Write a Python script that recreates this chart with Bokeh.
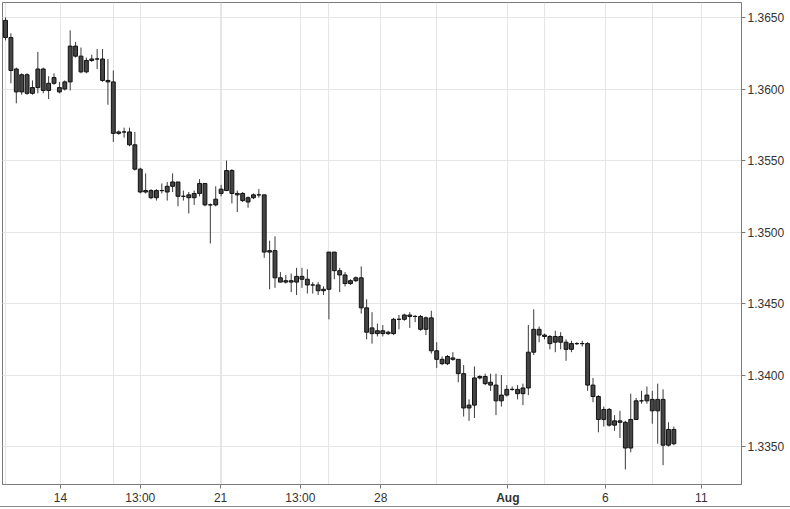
from bokeh.plotting import figure
from bokeh.models import (LinearAxis, FixedTicker, Range1d, ColumnDataSource,
                          NumeralTickFormatter, CustomJSTickFormatter, Grid)
from bokeh.embed import file_html
from bokeh.resources import INLINE

# ---- data (4-hour candles, EUR/USD style) ----
opens = [1.3648, 1.3636, 1.3614, 1.3598, 1.3610, 1.3597, 1.3601, 1.3614, 1.3599, 1.3604,
         1.3601, 1.3600, 1.3605, 1.3630, 1.3623, 1.3612, 1.3620, 1.3621, 1.3621, 1.3606,
         1.3605, 1.3569, 1.3570, 1.3570, 1.3561, 1.3544, 1.3528, 1.3529, 1.3524, 1.3529,
         1.3528, 1.3532, 1.3535, 1.3525, 1.3524, 1.3524, 1.3527, 1.3534, 1.3519, 1.3519,
         1.3527, 1.3529, 1.3543, 1.3527, 1.3522, 1.3524, 1.3524, 1.3526, 1.3526, 1.3486,
         1.3487, 1.3468, 1.3465, 1.3466, 1.3465, 1.3469, 1.3467, 1.3463, 1.3463, 1.3459,
         1.3460, 1.3486, 1.3473, 1.3470, 1.3464, 1.3466, 1.3468, 1.3447, 1.3429, 1.3431,
         1.3429, 1.3430, 1.3429, 1.3439, 1.3439, 1.3442, 1.3441, 1.3441, 1.3432, 1.3440,
         1.3417, 1.3411, 1.3408, 1.3412, 1.3411, 1.3401, 1.3377, 1.3379, 1.3398, 1.3399,
         1.3395, 1.3393, 1.3382, 1.3386, 1.3390, 1.3390, 1.3387, 1.3391, 1.3416, 1.3432,
         1.3428, 1.3427, 1.3423, 1.3427, 1.3423, 1.3418, 1.3422, 1.3422, 1.3422, 1.3393,
         1.3385, 1.3369, 1.3376, 1.3365, 1.3368, 1.3367, 1.3349, 1.3369, 1.3382, 1.3382,
         1.3383, 1.3375, 1.3383, 1.3351, 1.3362]
highs = [1.3650, 1.3639, 1.3615, 1.3611, 1.3611, 1.3606, 1.3626, 1.3615, 1.3609, 1.3611,
         1.3605, 1.3606, 1.3641, 1.3633, 1.3629, 1.3622, 1.3624, 1.3628, 1.3628, 1.3621,
         1.3613, 1.3571, 1.3573, 1.3573, 1.3570, 1.3545, 1.3541, 1.3530, 1.3530, 1.3534,
         1.3535, 1.3541, 1.3535, 1.3529, 1.3528, 1.3529, 1.3537, 1.3534, 1.3520, 1.3532,
         1.3533, 1.3550, 1.3544, 1.3529, 1.3528, 1.3525, 1.3527, 1.3530, 1.3526, 1.3494,
         1.3497, 1.3472, 1.3470, 1.3471, 1.3475, 1.3475, 1.3474, 1.3465, 1.3465, 1.3462,
         1.3486, 1.3486, 1.3475, 1.3472, 1.3467, 1.3469, 1.3476, 1.3453, 1.3444, 1.3436,
         1.3435, 1.3431, 1.3440, 1.3442, 1.3443, 1.3444, 1.3442, 1.3442, 1.3441, 1.3445,
         1.3423, 1.3413, 1.3414, 1.3416, 1.3411, 1.3407, 1.3383, 1.3406, 1.3400, 1.3401,
         1.3401, 1.3401, 1.3400, 1.3393, 1.3392, 1.3393, 1.3394, 1.3435, 1.3446, 1.3434,
         1.3429, 1.3428, 1.3431, 1.3430, 1.3425, 1.3424, 1.3423, 1.3424, 1.3423, 1.3398,
         1.3386, 1.3378, 1.3377, 1.3372, 1.3375, 1.3368, 1.3387, 1.3384, 1.3389, 1.3392,
         1.3389, 1.3394, 1.3390, 1.3367, 1.3364]
lows = [1.3634, 1.3604, 1.3590, 1.3596, 1.3596, 1.3596, 1.3597, 1.3597, 1.3593, 1.3603,
        1.3597, 1.3599, 1.3599, 1.3622, 1.3611, 1.3611, 1.3619, 1.3614, 1.3605, 1.3589,
        1.3563, 1.3568, 1.3566, 1.3560, 1.3543, 1.3527, 1.3527, 1.3523, 1.3522, 1.3527,
        1.3522, 1.3528, 1.3518, 1.3522, 1.3513, 1.3519, 1.3525, 1.3518, 1.3492, 1.3518,
        1.3525, 1.3529, 1.3520, 1.3514, 1.3521, 1.3517, 1.3523, 1.3524, 1.3482, 1.3460,
        1.3461, 1.3465, 1.3464, 1.3458, 1.3456, 1.3461, 1.3457, 1.3457, 1.3456, 1.3456,
        1.3439, 1.3467, 1.3458, 1.3462, 1.3463, 1.3465, 1.3443, 1.3425, 1.3422, 1.3427,
        1.3427, 1.3428, 1.3428, 1.3432, 1.3438, 1.3433, 1.3437, 1.3431, 1.3428, 1.3415,
        1.3405, 1.3407, 1.3407, 1.3410, 1.3395, 1.3371, 1.3368, 1.3370, 1.3397, 1.3393,
        1.3389, 1.3372, 1.3378, 1.3385, 1.3389, 1.3383, 1.3379, 1.3386, 1.3414, 1.3423,
        1.3425, 1.3418, 1.3416, 1.3418, 1.3410, 1.3416, 1.3421, 1.3420, 1.3389, 1.3381,
        1.3360, 1.3364, 1.3364, 1.3361, 1.3356, 1.3334, 1.3346, 1.3369, 1.3380, 1.3380,
        1.3366, 1.3352, 1.3337, 1.3350, 1.3351]
closes = [1.3636, 1.3613, 1.3598, 1.3610, 1.3597, 1.3601, 1.3614, 1.3599, 1.3604, 1.3608,
          1.3598, 1.3605, 1.3630, 1.3623, 1.3612, 1.3620, 1.3621, 1.3621, 1.3606, 1.3605,
          1.3569, 1.3570, 1.3570, 1.3561, 1.3544, 1.3528, 1.3529, 1.3524, 1.3529, 1.3529,
          1.3532, 1.3535, 1.3525, 1.3525, 1.3526, 1.3527, 1.3534, 1.3519, 1.3519, 1.3523,
          1.3530, 1.3543, 1.3527, 1.3526, 1.3527, 1.3521, 1.3526, 1.3526, 1.3486, 1.3487,
          1.3468, 1.3465, 1.3466, 1.3465, 1.3469, 1.3467, 1.3463, 1.3463, 1.3459, 1.3460,
          1.3486, 1.3473, 1.3470, 1.3464, 1.3466, 1.3468, 1.3447, 1.3430, 1.3433, 1.3429,
          1.3431, 1.3429, 1.3439, 1.3439, 1.3442, 1.3441, 1.3441, 1.3432, 1.3440, 1.3417,
          1.3411, 1.3408, 1.3413, 1.3411, 1.3401, 1.3377, 1.3379, 1.3398, 1.3399, 1.3394,
          1.3393, 1.3382, 1.3386, 1.3390, 1.3390, 1.3387, 1.3391, 1.3416, 1.3432, 1.3428,
          1.3427, 1.3422, 1.3427, 1.3423, 1.3418, 1.3422, 1.3422, 1.3422, 1.3393, 1.3385,
          1.3369, 1.3376, 1.3365, 1.3368, 1.3367, 1.3349, 1.3369, 1.3382, 1.3382, 1.3386,
          1.3375, 1.3383, 1.3351, 1.3362, 1.3352]

# date tick labels (positions in candle-index units)
x_tick_positions = [10.2, 25.0, 39.9, 54.7, 69.6, 93.2, 111.3, 129.1]
x_tick_labels = ["14", "13:00", "21", "13:00", "28", "Aug", "6", "11"]
bold_labels = ["Aug"]
y_ticks = [1.3350, 1.3400, 1.3450, 1.3500, 1.3550, 1.3600, 1.3650]

idx = list(range(len(opens)))
src = ColumnDataSource(dict(
    x=idx,
    high=highs,
    low=lows,
    top=[max(o, c) for o, c in zip(opens, closes)],
    bottom=[min(o, c) for o, c in zip(opens, closes)],
))

p = figure(width=790, height=507, output_backend="svg", toolbar_location=None,
           x_range=Range1d(-0.56, 136.55), y_range=Range1d(1.33235, 1.36605),
           x_axis_location=None, y_axis_location=None,
           min_border_left=2, min_border_top=2, min_border_right=49, min_border_bottom=22)
p.background_fill_color = "white"
p.border_fill_color = "white"
p.outline_line_color = "#7a7a7a"
p.outline_line_width = 1
p.styles = {"border-bottom": "1px solid #8a8a8a"}

lab_font = "Liberation Sans"
lab_color = "#333333"

label_code = ("const i = pos.indexOf(tick); if (i < 0) return ''; "
              "const b = bold.includes(labs[i]); return (b == want_bold) ? labs[i] : '';")

yaxis = LinearAxis(ticker=FixedTicker(ticks=y_ticks),
                   formatter=NumeralTickFormatter(format="0.0000"))
xaxis = LinearAxis(ticker=FixedTicker(ticks=x_tick_positions),
                   formatter=CustomJSTickFormatter(
                       args=dict(pos=x_tick_positions, labs=x_tick_labels,
                                 bold=bold_labels, want_bold=False),
                       code=label_code))
for ax in (yaxis, xaxis):
    ax.axis_line_color = "#7a7a7a"
    ax.major_tick_line_color = "#7a7a7a"
    ax.major_tick_out = 4
    ax.major_tick_in = 0
    ax.minor_tick_line_color = None
    ax.major_label_text_font = lab_font
    ax.major_label_text_font_size = "12px"
    ax.major_label_text_color = lab_color
    ax.major_label_standoff = 2
p.add_layout(yaxis, "right")
p.add_layout(xaxis, "below")

# second bottom axis carrying only the bold month label, pulled up onto the first one's baseline
xaxis_bold = LinearAxis(ticker=FixedTicker(ticks=[t for t, l in zip(x_tick_positions, x_tick_labels)
                                                  if l in bold_labels]),
                        formatter=CustomJSTickFormatter(
                            args=dict(pos=x_tick_positions, labs=x_tick_labels,
                                      bold=bold_labels, want_bold=True),
                            code=label_code))
xaxis_bold.axis_line_color = None
xaxis_bold.major_tick_line_color = None
xaxis_bold.minor_tick_line_color = None
xaxis_bold.major_tick_out = 0
xaxis_bold.major_tick_in = 0
xaxis_bold.major_label_standoff = -17
xaxis_bold.major_label_text_font = lab_font
xaxis_bold.major_label_text_font_size = "12px"
xaxis_bold.major_label_text_font_style = "bold"
xaxis_bold.major_label_text_color = lab_color
p.add_layout(xaxis_bold, "below")

p.add_layout(Grid(dimension=0, ticker=xaxis.ticker, grid_line_color="#e6e6e6"))
p.add_layout(Grid(dimension=1, ticker=yaxis.ticker, grid_line_color="#e6e6e6"))

p.segment(x0="x", x1="x", y0="low", y1="high", source=src, line_color="#3a3a3a", line_width=1)
p.vbar(x="x", width=0.72, top="top", bottom="bottom", source=src,
       fill_color="#454545", line_color="#111111", line_width=1)

open("out.html", "w").write(file_html(p, INLINE))
